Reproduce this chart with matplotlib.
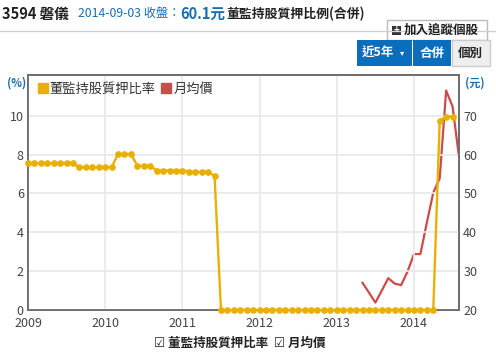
import matplotlib.pyplot as plt
from matplotlib.patches import Rectangle
from matplotlib.lines import Line2D

plt.rcParams['font.family'] = ['Noto Sans CJK TC', 'DejaVu Sans']

# months counted from 2009-01 (index 0)
years = ['2009', '2010', '2011', '2012', '2013', '2014']
year_pos = [0, 12, 24, 36, 48, 60]

pledge = ([7.55] * 8 + [7.35] * 6 + [8.03] * 3 + [7.43] * 3 + [7.18] * 5
          + [7.11] * 4 + [6.9] + [0.0] * 34 + [9.75, 9.95, 9.95])
pledge_months = list(range(len(pledge)))

price = [27.0, 24.5, 21.9, 25.0, 28.2, 26.8, 26.4, 29.9, 34.4, 34.4,
         42.5, 50.2, 53.9, 76.5, 72.4, 59.4]
price_months = list(range(52, 52 + len(price)))

W, H = 496, 354
fig = plt.figure(figsize=(W / 100, H / 100), dpi=100)


def fx(x):
    return x / W


def fy(y):
    return 1 - y / H


ax = fig.add_axes([fx(28), fy(310), fx(459) - fx(28), fy(75) - fy(310)])
ax2 = ax.twinx()

yellow = '#E8B004'
red = '#CC4B4B'

ax.plot(pledge_months, pledge, color=yellow, lw=1.7, marker='o', ms=3.8,
        zorder=3, clip_on=False)
ax2.plot(price_months, price, color=red, lw=1.6, zorder=3)

ax.set_xlim(0, 67)
ax.set_ylim(0, 12.1)
ax2.set_ylim(20, 80.5)
ax.set_xticks(year_pos)
ax.set_xticklabels(years)
ax.set_yticks([0, 2, 4, 6, 8, 10])
ax2.set_yticks([20, 30, 40, 50, 60, 70])
for a in (ax, ax2):
    a.tick_params(length=0, labelsize=9, colors='#444', pad=3)
    for s in a.spines.values():
        s.set_color('#6e6e6e')
        s.set_linewidth(1.3)
ax.tick_params(axis='x', pad=5)
ax.grid(True, color='#e8e8e8', lw=1.2)
ax.set_axisbelow(True)
ax2.set_zorder(ax.get_zorder() - 1)
ax.patch.set_visible(False)
ax2.patch.set_visible(True)

handles = [Line2D([], [], color=yellow, marker='s', ls='none', ms=7),
           Line2D([], [], color=red, marker='s', ls='none', ms=7)]
ax.legend(handles, ['董監持股質押比率', '月均價'], ncol=2, loc='upper left',
          frameon=False, fontsize=9.5, handletextpad=0.05, columnspacing=0.3,
          borderaxespad=0.2, handlelength=1.0, labelcolor='#333')

fig.text(fx(7), fy(83), '(%)', color='#1a6cb0', fontsize=8,
         fontweight='bold', va='center')
fig.text(fx(465), fy(83), '(元)', color='#1a6cb0', fontsize=8,
         fontweight='bold', va='center')

# header
fig.text(fx(2), fy(14), '3594 磐儀', fontsize=10.5, fontweight='bold',
         color='#222', va='center')
fig.text(fx(78), fy(14), '2014-09-03 收盤：', fontsize=8.8, color='#1a6cb0',
         va='center')
fig.text(fx(180), fy(14), '60.1元', fontsize=10.5, fontweight='bold',
         color='#1a6cb0', va='center')
fig.text(fx(226), fy(14), '董監持股質押比例(合併)', fontsize=9.3, fontweight='bold',
         color='#222', va='center')
fig.add_artist(Line2D([0, 1], [fy(31), fy(31)], color='#cfcfcf', lw=1))

fig.add_artist(Rectangle((fx(387), fy(40)), fx(100), fy(20) - fy(40),
                         facecolor='white', edgecolor='#bbbbbb', lw=1))
fig.add_artist(Rectangle((fx(392), fy(35)), fx(9), fy(26) - fy(35),
                         facecolor='#333', edgecolor='none'))
fig.text(fx(396.5), fy(30.5), '+', color='white', fontsize=7, fontweight='bold',
         ha='center', va='center')
fig.text(fx(404), fy(30.5), '加入追蹤個股', fontsize=9, fontweight='bold',
         color='#222', va='center')

blue = '#0a6ebd'
fig.add_artist(Rectangle((fx(357), fy(66)), fx(55), fy(40) - fy(66),
                         facecolor=blue, edgecolor='none'))
fig.add_artist(Rectangle((fx(413), fy(66)), fx(38), fy(40) - fy(66),
                         facecolor=blue, edgecolor='none'))
fig.add_artist(Rectangle((fx(451.5), fy(66)), fx(38), fy(40) - fy(66),
                         facecolor='#eeeeee', edgecolor='#cccccc', lw=1))
fig.text(fx(362), fy(53), '近5年', fontsize=9, fontweight='bold', color='white',
         va='center')
fig.text(fx(402), fy(53), '▾', fontsize=6, color='white', va='center',
         ha='center', family=['DejaVu Sans'])
fig.text(fx(432), fy(53), '合併', fontsize=9, fontweight='bold', color='white',
         va='center', ha='center')
fig.text(fx(470.5), fy(53), '個別', fontsize=9, fontweight='bold', color='#222',
         va='center', ha='center')

# bottom legend
fig.text(fx(240), fy(343), '☑ 董監持股質押比率  ☑ 月均價', fontsize=9,
         fontweight='bold', color='#222', va='center', ha='center',
         family=['Noto Sans CJK TC', 'DejaVu Sans'])

fig.savefig('out.png', dpi=100)
